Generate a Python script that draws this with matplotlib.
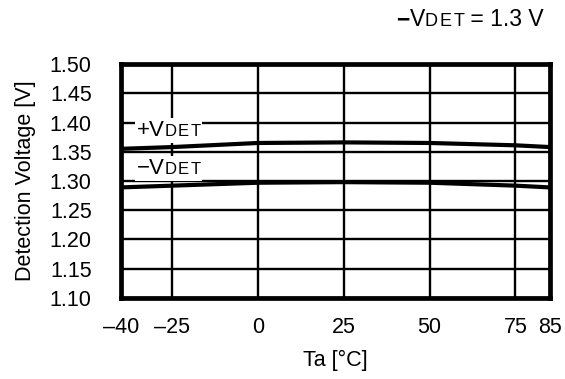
import matplotlib
matplotlib.use("Agg")
import matplotlib.pyplot as plt
from matplotlib.offsetbox import TextArea, HPacker, AnnotationBbox

plt.rcParams['font.family'] = ['Liberation Sans', 'DejaVu Sans']

temps = [-40, -25, 0, 25, 50, 75, 85]
v_plus = [1.355, 1.358, 1.365, 1.366, 1.365, 1.361, 1.358]
v_minus = [1.289, 1.292, 1.297, 1.298, 1.297, 1.292, 1.289]
xticks = [-40, -25, 0, 25, 50, 75, 85]
xticklabels = ['\u201340', '\u201325', '0', '25', '50', '75', '85']
yticks = [1.10, 1.15, 1.20, 1.25, 1.30, 1.35, 1.40, 1.45, 1.50]
yticklabels = ['%.2f' % v for v in yticks]

fs = 15.5
fig = plt.figure(figsize=(5.65, 3.79), dpi=100)
ax = fig.add_axes([0.214, 0.214, 0.759, 0.617])
ax.set_xlim(-40, 85)
ax.set_ylim(1.10, 1.50)
ax.set_xticks(xticks)
ax.set_xticklabels(xticklabels, fontsize=fs)
ax.set_yticks(yticks)
ax.set_yticklabels(yticklabels, fontsize=fs)
ax.tick_params(axis='y', length=0, pad=21)
ax.tick_params(axis='x', length=0, pad=14)
ax.grid(True, color='black', linewidth=1.7)
for s in ax.spines.values():
    s.set_linewidth(3.4)
ax.set_axisbelow(True)

ax.plot(temps, v_plus, color='black', linewidth=3.0, zorder=3)
ax.plot(temps, v_minus, color='black', linewidth=3.0, zorder=3)

ax.set_xlabel('Ta [\u00b0C]', fontsize=fs, labelpad=8)
ax.set_ylabel('Detection Voltage [V]', fontsize=fs, labelpad=10)


def sub_box(sub, size, sep):
    return HPacker(children=[TextArea(c, textprops=dict(fontsize=size))
                             for c in sub], align='baseline', pad=0, sep=sep)


def label_box(prefix, sub, big=16, small=12):
    return HPacker(children=[TextArea(prefix, textprops=dict(fontsize=big)),
                             sub_box(sub, small, 0.8)],
                   align='baseline', pad=0, sep=0)


for txt, y in [('+V', 1.386), ('\u2212V', 1.321)]:
    ab = AnnotationBbox(label_box(txt, 'DET'), (-35.3, y), xycoords='data',
                        box_alignment=(0, 0.5), frameon=True, pad=0.15,
                        bboxprops=dict(facecolor='white', edgecolor='none'),
                        zorder=4)
    ax.add_artist(ab)

top = HPacker(children=[TextArea('\u2212', textprops=dict(fontsize=16.5, fontweight='bold')),
                        TextArea('V', textprops=dict(fontsize=16.5)),
                        sub_box('DET', 13, 1.4),
                        TextArea(' = 1.3 V', textprops=dict(fontsize=16.5))],
              align='baseline', pad=0, sep=0)
ab = AnnotationBbox(top, (0.963, 0.948), xycoords='figure fraction',
                    box_alignment=(1, 0.5), frameon=False)
fig.add_artist(ab)

fig.savefig('out.png', dpi=100)
